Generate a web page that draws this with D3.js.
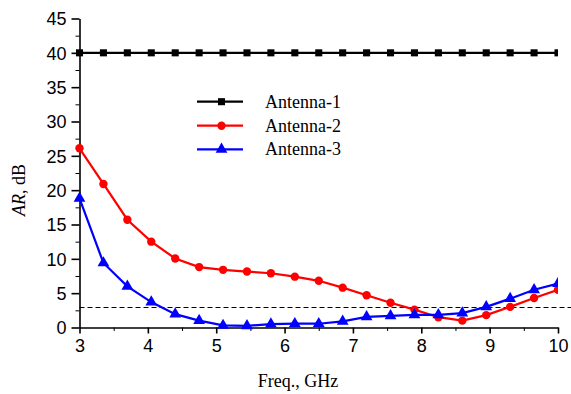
<!DOCTYPE html>
<html><head><meta charset="utf-8">
<script src="https://cdn.jsdelivr.net/npm/d3@7"></script>
<style>body{margin:0;background:#fff;}svg{display:block;}</style>
</head><body>
<svg id="c" width="571" height="394"></svg>
<script>
const freq = [3, 3.35, 3.7, 4.05, 4.4, 4.75, 5.1, 5.45, 5.8, 6.15, 6.5, 6.85, 7.2, 7.55, 7.9, 8.25, 8.6, 8.95, 9.3, 9.65, 10];
const antenna1 = [40,40,40,40,40,40,40,40,40,40,40,40,40,40,40,40,40,40,40,40,40];
const antenna2 = [26.1, 20.9, 15.7, 12.5, 10.05, 8.8, 8.4, 8.15, 7.9, 7.4, 6.8, 5.8, 4.7, 3.6, 2.6, 1.5, 1.0, 1.8, 3.0, 4.3, 5.5];
const antenna3 = [18.8, 9.4, 6.0, 3.7, 1.95, 1.0, 0.3, 0.25, 0.5, 0.55, 0.55, 0.9, 1.55, 1.7, 1.85, 1.85, 2.1, 3.0, 4.2, 5.5, 6.4];
const seriesNames = ["Antenna-1", "Antenna-2", "Antenna-3"];
const seriesColors = ["#000000", "#ff0000", "#0000ff"];
const xTicks = [3, 4, 5, 6, 7, 8, 9, 10];
const yTicks = [0, 5, 10, 15, 20, 25, 30, 35, 40, 45];
const threshold = 3;

const svg = d3.select("#c");
const L = 79.5, R = 558, T = 18.5, B = 327.5;
const x = d3.scaleLinear().domain([3, 10]).range([L, R]);
const y = d3.scaleLinear().domain([0, 45]).range([B, T]);
const sans = "'Liberation Sans', Arial, sans-serif";
const serif = "'Liberation Serif', 'Times New Roman', serif";

svg.append("defs").append("clipPath").attr("id", "clip")
  .append("rect").attr("x", 0).attr("y", 0).attr("width", R).attr("height", 394);

// minor ticks
const xMinor = d3.range(3.5, 10, 1);
const yMinor = d3.range(2.5, 45, 5);
svg.append("g").attr("transform", `translate(0,${B})`)
  .call(d3.axisBottom(x).tickValues(xMinor).tickSize(3.5).tickSizeOuter(0).tickFormat(""))
  .call(g => g.select(".domain").remove());
svg.append("g").attr("transform", `translate(${L},0)`)
  .call(d3.axisLeft(y).tickValues(yMinor).tickSize(4).tickSizeOuter(0).tickFormat(""))
  .call(g => g.select(".domain").remove());

const xAxis = svg.append("g").attr("transform", `translate(0,${B})`)
  .call(d3.axisBottom(x).tickValues(xTicks).tickSize(6).tickPadding(6).tickSizeOuter(0).tickFormat(d3.format("d")));
const yAxis = svg.append("g").attr("transform", `translate(${L},0)`)
  .call(d3.axisLeft(y).tickValues(yTicks).tickSize(8).tickPadding(5).tickSizeOuter(0).tickFormat(d3.format("d")));
[xAxis, yAxis].forEach(g => {
  g.selectAll("text").attr("font-family", sans).attr("font-size", 18).attr("fill", "#000");
  g.selectAll("line,path").attr("stroke", "#000").attr("stroke-width", 1.6);
});
yAxis.selectAll("text").attr("dy", "0.36em");

// threshold dashed line
const ty = Math.round(y(threshold)) + 0.5;
svg.append("line").attr("x1", L).attr("x2", 571).attr("y1", ty).attr("y2", ty)
  .attr("stroke", "#000").attr("stroke-width", 1).attr("stroke-dasharray", "5,3");

const data = [antenna1, antenna2, antenna3];
const symbols = [d3.symbolSquare, d3.symbolCircle, d3.symbolTriangle];
const symSizes = [50, 55, 60];
const line = d3.line().x((d, i) => x(freq[i])).y(d => y(d));
const plot = svg.append("g").attr("clip-path", "url(#clip)");
data.forEach((s, k) => {
  plot.append("path").datum(s).attr("d", line).attr("fill", "none")
    .attr("stroke", seriesColors[k]).attr("stroke-width", 2.2);
  plot.selectAll(null).data(s).enter().append("path")
    .attr("transform", (d, i) => `translate(${x(freq[i])},${y(d)})`)
    .attr("d", d3.symbol().type(symbols[k]).size(symSizes[k]))
    .attr("fill", seriesColors[k]);
});

// legend
const legY = [101.7, 125.7, 149.3];
seriesNames.forEach((n, k) => {
  const g = svg.append("g");
  g.append("line").attr("x1", 197).attr("x2", 243).attr("y1", legY[k]).attr("y2", legY[k])
    .attr("stroke", seriesColors[k]).attr("stroke-width", 2.2);
  g.append("path").attr("transform", `translate(221.5,${legY[k]})`)
    .attr("d", d3.symbol().type(symbols[k]).size(symSizes[k])).attr("fill", seriesColors[k]);
  g.append("text").attr("x", 265).attr("y", legY[k] + 6).text(n)
    .attr("font-family", serif).attr("font-size", 18).attr("fill", "#000");
});

// axis titles
svg.append("text").attr("x", 298).attr("y", 386.5).attr("text-anchor", "middle")
  .attr("font-family", serif).attr("font-size", 18).text("Freq., GHz");
const yt = svg.append("text").attr("transform", "translate(25,190) rotate(-90)")
  .attr("text-anchor", "middle").attr("font-family", serif).attr("font-size", 18);
yt.append("tspan").attr("font-style", "italic").text("AR");
yt.append("tspan").text(", dB");
</script>
</body></html>
